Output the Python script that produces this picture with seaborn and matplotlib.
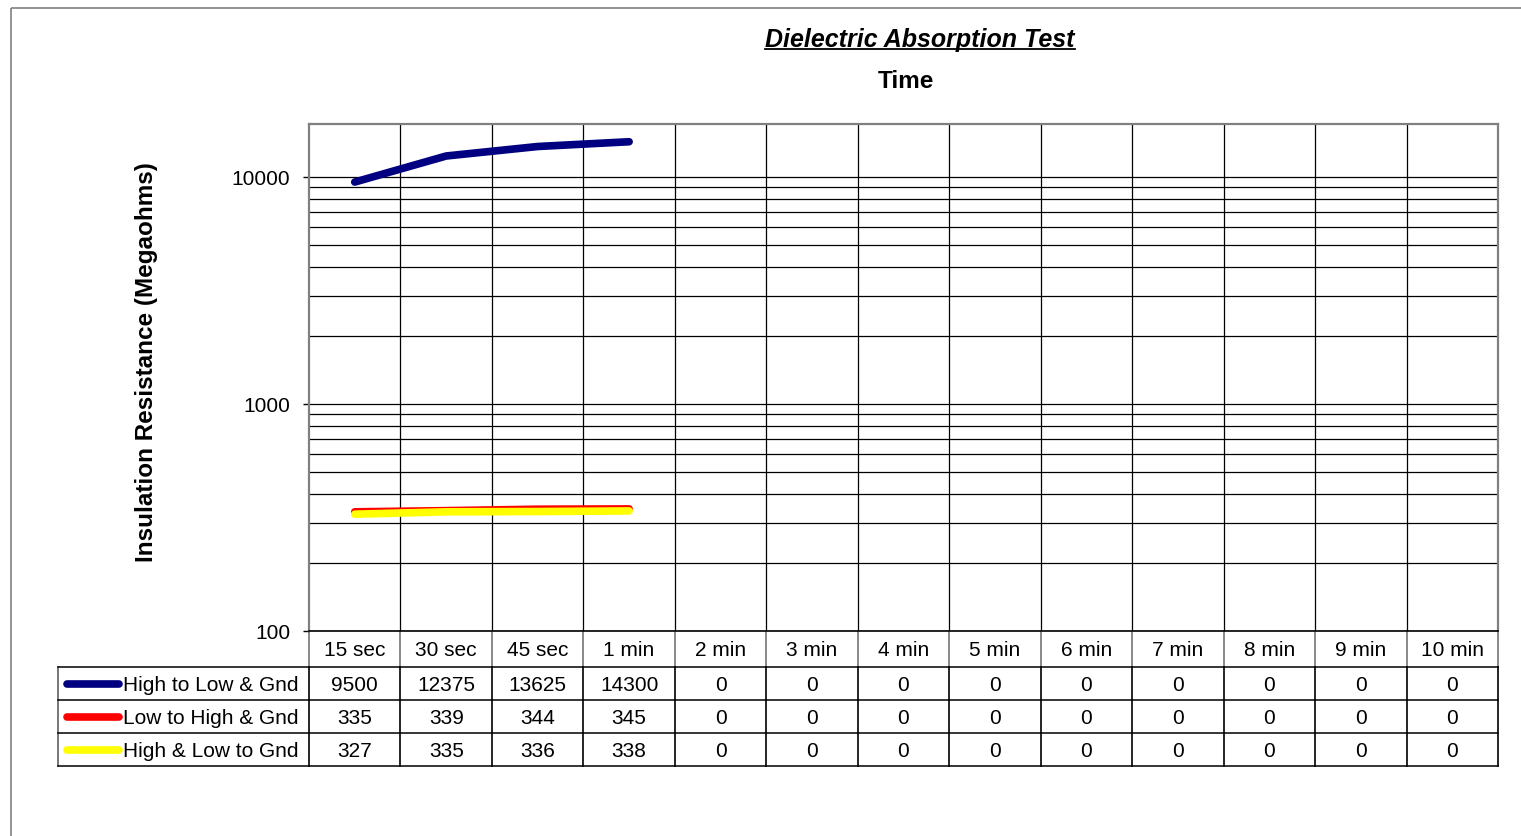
import matplotlib
matplotlib.use("Agg")
import matplotlib.pyplot as plt
from matplotlib.lines import Line2D
from matplotlib.patches import Rectangle
from matplotlib.ticker import FixedLocator, FuncFormatter, LogLocator, NullFormatter
import numpy as np
import pandas as pd
import seaborn as sns

# --------------------------------------------
# DATA
# --------------------------------------------
TIMES = ["15 sec", "30 sec", "45 sec", "1 min", "2 min", "3 min", "4 min",
         "5 min", "6 min", "7 min", "8 min", "9 min", "10 min"]
SERIES = ["High to Low & Gnd", "Low to High & Gnd", "High & Low to Gnd"]
HIGH_TO_LOW = [9500, 12375, 13625, 14300, 0, 0, 0, 0, 0, 0, 0, 0, 0]
LOW_TO_HIGH = [335, 339, 344, 345, 0, 0, 0, 0, 0, 0, 0, 0, 0]
HIGH_LOW_GND = [327, 335, 336, 338, 0, 0, 0, 0, 0, 0, 0, 0, 0]
COLORS = ["#000080", "#FF0000", "#FFFF00"]

# --------------------------------------------
# LAYOUT (pixels)
# --------------------------------------------
W, H = 1521, 837
PLOT_L, PLOT_R, PLOT_T, PLOT_B = 309, 1498, 125, 632
HEADER_B = 668
ROW_H = 33
KEY_L = 58
FS = 15


def fx(px):
    return px / W


def fy(py):
    return 1 - py / H


plt.rcParams["font.family"] = ["Liberation Sans", "DejaVu Sans"]

values = [HIGH_TO_LOW, LOW_TO_HIGH, HIGH_LOW_GND]
rows = []
for name, vals in zip(SERIES, values):
    for i, v in enumerate(vals):
        rows.append({"pos": i, "time": TIMES[i], "series": name,
                     "value": v if v > 0 else np.nan})
df = pd.DataFrame(rows)

fig = plt.figure(figsize=(W / 100, H / 100), dpi=100)

# overlay for frame, titles and data table, drawn in pixel units
ov = fig.add_axes([0, 0, 1, 1])
ov.set_xlim(0, W)
ov.set_ylim(H, 0)
ov.axis("off")
ov.add_patch(Rectangle((11, 9), 1700, 1000, fill=False, ec="#808080", lw=1.2))

ax = fig.add_axes([fx(PLOT_L), fy(PLOT_B), fx(PLOT_R - PLOT_L),
                   (PLOT_B - PLOT_T) / H])
sns.lineplot(data=df, x="pos", y="value", hue="series", hue_order=SERIES,
             palette=COLORS, linewidth=5.5, solid_capstyle="round",
             legend=False, ax=ax)
ax.set_yscale("log")
ax.set_ylim(100, 10 ** (4 + (178 - PLOT_T) / 227))
ax.set_xlim(-0.5, len(TIMES) - 0.5)

ax.yaxis.set_major_locator(FixedLocator([100, 1000, 10000]))
ax.yaxis.set_major_formatter(FuncFormatter(lambda v, _: f"{v:.0f}"))
ax.yaxis.set_minor_locator(LogLocator(base=10, subs=np.arange(2, 10)))
ax.yaxis.set_minor_formatter(NullFormatter())
ax.set_xticks(np.arange(0.5, len(TIMES) - 1))
ax.set_xticklabels([])
ax.tick_params(axis="x", length=0)
ax.tick_params(axis="y", which="major", length=4.5, width=1, pad=9,
               labelsize=FS, direction="out")
ax.tick_params(axis="y", which="minor", length=0)
ax.grid(True, which="both", axis="y", color="black", lw=0.9)
ax.grid(True, axis="x", color="black", lw=0.9)
ax.set_axisbelow(True)
ax.set_xlabel("")
ax.set_ylabel("")
for side in ["top", "right", "left"]:
    ax.spines[side].set_color("#808080")
    ax.spines[side].set_linewidth(1.6)
ax.spines["bottom"].set_color("black")
ax.spines["bottom"].set_linewidth(1.2)

# titles
t = ov.text(920, 40, "Dielectric Absorption Test", ha="center", va="center",
            fontsize=18, fontweight="bold", fontstyle="italic")
ov.text(906, 81, "Time", ha="center", va="center", fontsize=17.5,
        fontweight="bold")
ov.text(147, 362, "Insulation Resistance (Megaohms)", ha="center",
        va="center", rotation=90, fontsize=17.5, fontweight="bold")

# data table
colw = (PLOT_R - PLOT_L) / len(TIMES)
table_b = HEADER_B + ROW_H * len(SERIES)
for i, label in enumerate(TIMES):
    cx = PLOT_L + (i + 0.5) * colw
    ov.text(cx, (PLOT_B + HEADER_B) / 2 + 1, label, ha="center", va="center",
            fontsize=FS)
    for r, vals in enumerate(values):
        ov.text(cx, HEADER_B + (r + 0.5) * ROW_H + 1, f"{vals[i]}",
                ha="center", va="center", fontsize=FS)
for i in range(len(TIMES) + 1):
    x = PLOT_L + i * colw
    ov.plot([x, x], [PLOT_B, HEADER_B], color="#808080", lw=1.3)
    ov.plot([x, x], [HEADER_B, table_b], color="black", lw=1.2)
ov.plot([KEY_L, KEY_L], [HEADER_B, table_b], color="#606060", lw=1.2)
for r in range(len(SERIES) + 1):
    y = HEADER_B + r * ROW_H
    ov.plot([KEY_L, PLOT_R], [y, y], color="black", lw=1.1)
for r, (name, c) in enumerate(zip(SERIES, COLORS)):
    y = HEADER_B + (r + 0.5) * ROW_H
    ov.add_line(Line2D([67, 119], [y, y], color=c, lw=5.5,
                       solid_capstyle="round"))
    ov.text(123, y + 1, name, ha="left", va="center", fontsize=FS)

# underline the title
fig.canvas.draw()
bb = t.get_window_extent()
uy = H - bb.y0 - 2
ov.plot([bb.x0, bb.x1], [uy, uy], color="black", lw=1.3)

fig.savefig("out.png", dpi=100)
